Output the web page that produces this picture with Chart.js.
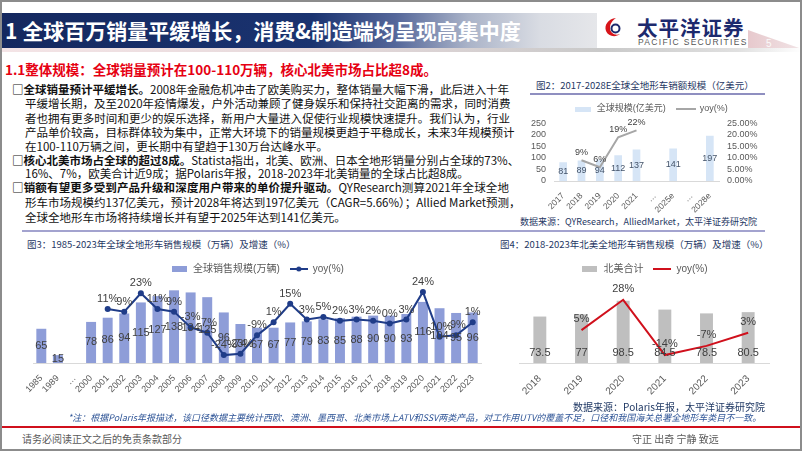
<!DOCTYPE html>
<html>
<head>
<meta charset="utf-8">
<script src="https://cdn.jsdelivr.net/npm/chart.js@4.4.0/dist/chart.umd.min.js"></script>
<style>
  body { margin: 0; background: #fff; }
  #slide { position: relative; width: 802px; height: 451px; overflow: hidden; background: #fff;
           font-family: "Noto Sans CJK SC", sans-serif; }
  .abs { position: absolute; white-space: nowrap; }
  .ln { position: absolute; font-size: 11.5px; line-height: 14px; color: #111; white-space: nowrap; }
  .j { text-align: justify; text-align-last: justify; }
  .cap { position: absolute; font-size: 9.5px; color: #1f3864; white-space: nowrap; }
  canvas { position: absolute; }
</style>
</head>
<body>
<div id="slide">
  <!-- header -->
  <div class="abs" style="left:0;top:13px;width:600px;height:35px;background:linear-gradient(90deg,#14285f 0%,#1a3370 52%,#55679a 66%,#aab3c8 78%,#d9dce3 90%,#e6e7ea 100%);"></div>
  <div class="abs" style="left:5px;top:13px;line-height:35px;font-size:21px;font-weight:bold;color:#fff;">1 全球百万销量平缓增长，消费&amp;制造端均呈现高集中度</div>
  <div class="abs" style="left:597px;top:13px;width:153px;height:35px;background:#fff;"></div>
  <svg class="abs" style="left:603px;top:16px" width="22" height="22" viewBox="0 0 22 22">
    <path d="M13 2 C5 3 1 9 3 15 C5 20 12 22 17 18 C12 20 7 17 7 12 C7 7 10 4 13 2 Z" fill="#d7141a"/>
    <circle cx="12.5" cy="12.5" r="4" fill="none" stroke="#1d2a6e" stroke-width="2"/>
  </svg>
  <div class="abs" style="left:637px;top:12px;font-size:20.5px;font-weight:bold;color:#1d2a6e;letter-spacing:1px;">太平洋证券</div>
  <div class="abs" style="left:638px;top:37px;font-size:8.5px;color:#555;letter-spacing:1.3px;font-family:'Liberation Sans',sans-serif;">PACIFIC SECURITIES</div>
  <div class="abs" style="left:748px;top:30px;width:54px;height:19px;background:linear-gradient(90deg,#e7c9cd,#f1e4e6);clip-path:polygon(0 0,100% 100%,0 100%);"></div>
  <div class="abs" style="left:766px;top:38px;font-size:10px;color:#fafafa;font-family:'Liberation Sans',sans-serif;">5</div>
  <div class="abs" style="left:0;top:48px;width:802px;height:4px;background:linear-gradient(90deg,#f4e4e6 0%,#e6d9db 40%,#c9c9c9 75%,#e0e0e0 92%,#fff 100%);"></div>

  <!-- subtitle -->
  <div class="abs" style="left:5px;top:59px;font-size:13.5px;font-weight:bold;color:#e60012;">1.1整体规模：全球销量预计在100-110万辆，核心北美市场占比超8成。</div>

  <!-- body text -->
  <div class="ln j" style="left:12px;top:82px;width:497px;"><b>□全球销量预计平缓增长。</b>2008年金融危机冲击了欧美购买力，整体销量大幅下滑，此后进入十年</div>
  <div class="ln j" style="left:25px;top:96px;width:485px;">平缓增长期，及至2020年疫情爆发，户外活动兼顾了健身娱乐和保持社交距离的需求，同时消费</div>
  <div class="ln j" style="left:25px;top:111px;width:485px;">者也拥有更多时间和更少的娱乐选择，新用户大量进入促使行业规模快速提升。我们认为，行业</div>
  <div class="ln j" style="left:25px;top:125px;width:485px;">产品单价较高，目标群体较为集中，正常大环境下的销量规模更趋于平稳成长，未来3年规模预计</div>
  <div class="ln" style="left:25px;top:139px;">在100-110万辆之间，更长期中有望趋于130万台达峰水平。</div>
  <div class="ln j" style="left:12px;top:153px;width:497px;"><b>□核心北美市场占全球的超过8成。</b>Statista指出，北美、欧洲、日本全地形销量分别占全球的73%、</div>
  <div class="ln" style="left:25px;top:166px;">16%、7%，欧美合计近9成；据Polaris年报，2018-2023年北美销量的全球占比超8成。</div>
  <div class="ln j" style="left:12px;top:180px;width:497px;"><b>□销额有望更多受到产品升级和深度用户带来的单价提升驱动。</b>QYResearch测算2021年全球全地</div>
  <div class="ln j" style="left:25px;top:195px;width:490px;">形车市场规模约137亿美元，预计2028年将达到197亿美元（CAGR=5.66%）；Allied Market预测，</div>
  <div class="ln" style="left:25px;top:210px;">全球全地形车市场将持续增长并有望于2025年达到141亿美元。</div>

  <!-- chart 2 captions -->
  <div class="cap" style="left:536px;top:78px;">图2：2017-2028E全球全地形车销额规模（亿美元）</div>
  <div class="abs" style="left:530px;top:93px;width:235px;height:1.5px;background:#8f8fc0;"></div>
  <div class="cap" style="left:520px;top:215px;font-size:9px;">数据来源：QYResearch，AlliedMarket，太平洋证券研究院</div>

  <div class="abs" style="left:22px;top:230px;width:743px;height:1.5px;background:#a3a3cf;"></div>

  <div class="cap" style="left:27px;top:237px;">图3：1985-2023年全球全地形车销售规模（万辆）及增速（%）</div>
  <div class="cap" style="left:500px;top:237px;">图4：2018-2023年北美全地形车销售规模（万辆）及增速（%）</div>

  <canvas id="c2" width="242" height="125" style="left:530px;top:93px;"></canvas>
  <canvas id="c3" width="465" height="146" style="left:25px;top:254px;"></canvas>
  <canvas id="c4" width="285" height="146" style="left:500px;top:254px;"></canvas>

  <!-- notes & footer -->
  <div class="abs" style="right:37px;top:399px;font-size:10px;color:#1f3864;">数据来源：Polaris年报，太平洋证券研究院</div>
  <div class="abs" style="left:68px;top:411px;font-size:9px;font-style:italic;color:#2f5597;">*注：根据Polaris年报描述，该口径数据主要统计西欧、澳洲、墨西哥、北美市场上ATV和SSV两类产品，对工作用UTV的覆盖不足，口径和我国海关总署全地形车类目不一致。</div>
  <div class="abs" style="left:0;top:426px;width:802px;height:2px;background:#d0101c;"></div>
  <div class="abs" style="left:22px;top:431px;font-size:10px;color:#595959;">请务必阅读正文之后的免责条款部分</div>
  <div class="abs" style="left:632px;top:431px;font-size:10px;color:#595959;">守正 出奇 宁静 致远</div>

  <div class="abs" style="left:0;top:0;width:802px;height:451px;box-sizing:border-box;border:2px solid #8c8c8c;"></div>
</div>

<script>
// ---- data ----
const c2Years = ['2017', '2018', '2019', '2020', '2021', '…', '2025e', '…', '2028e'];
const c2Size = [81, 89, 94, 112, 137, null, 141, null, 197];
const c2Yoy = [null, 9, 6, 19, 22, null, null, null, null];

const c3Years = ['1985', '1989', '…', '2000', '2001', '2002', '2003', '2004', '2005', '2006', '2007', '2008', '2009',
  '2010', '2011', '2012', '2013', '2014', '2015', '2016', '2017', '2018', '2019', '2020', '2021', '2022', '2023'];
const c3Sales = [65, 15, null, 78, 86, 94, 115, 127, 138, 134, 125, 96, 74, 67, 67, 77, 79, 83, 85, 88, 90, 90, 93, 116, 104, 95, 96];
const c3Yoy = [null, null, null, null, 11, 9, 23, 11, 9, -3, -7, -24, -23, -9, 1, 15, 3, 5, 2, 3, 2, 0, 3, 24, -10, -9, 1];

const c4Years = ['2018', '2019', '2020', '2021', '2022', '2023'];
const c4Sales = [73.5, 77, 98.5, 84.5, 78.5, 80.5];
const c4Yoy = [null, 5, 28, -14, -7, 3];

const FONT = "'Liberation Sans', 'Noto Sans CJK SC', sans-serif";
const pct = v => v + '%';

// value labels drawn straight from the element positions
const valueLabels = {
  id: 'valueLabels',
  afterDatasetsDraw(chart) {
    const ctx = chart.ctx;
    chart.data.datasets.forEach((ds, i) => {
      const lab = ds.valueLabel;
      if (!lab) return;
      const meta = chart.getDatasetMeta(i);
      ctx.save();
      ctx.font = lab.size + 'px ' + FONT;
      ctx.fillStyle = lab.color || '#404040';
      ctx.textAlign = 'center';
      ctx.textBaseline = 'middle';
      meta.data.forEach((el, j) => {
        const v = ds.data[j];
        if (v == null) return;
        let y;
        if (lab.pos === 'center') y = (el.y + el.base) / 2;
        else if (lab.pos === 'base') y = el.base - lab.offset;
        else y = el.y - lab.offset;
        ctx.fillText(lab.fmt ? lab.fmt(v) : v, el.x, y);
      });
      ctx.restore();
    });
  }
};

function boxIcon(color, w, h) {
  const c = document.createElement('canvas');
  c.width = w; c.height = h;
  const g = c.getContext('2d');
  g.fillStyle = color;
  g.fillRect(0, 0, w, h);
  return c;
}
function lineIcon(color, w, lw, dot) {
  const c = document.createElement('canvas');
  c.width = w; c.height = 8;
  const g = c.getContext('2d');
  g.strokeStyle = color; g.lineWidth = lw;
  g.beginPath(); g.moveTo(0, 4); g.lineTo(w, 4); g.stroke();
  if (dot) {
    g.fillStyle = color;
    g.beginPath(); g.arc(w / 2, 4, dot, 0, Math.PI * 2); g.fill();
  }
  return c;
}
// legend items: [text, icon, datasetIndex]
function legendOf(items, size, padding) {
  return {
    display: true,
    position: 'top',
    onClick: null,
    labels: {
      usePointStyle: true,
      pointStyleWidth: 18,
      padding: padding,
      color: '#595959',
      font: { size: size, family: FONT },
      generateLabels: () => items.map(it => ({
        text: it[0], pointStyle: it[1], datasetIndex: it[2], hidden: false,
        fontColor: '#595959', lineWidth: 0, strokeStyle: 'rgba(0,0,0,0)', fillStyle: 'rgba(0,0,0,0)'
      }))
    }
  };
}
function xAxis(size, h) {
  return {
    grid: { display: false },
    border: { display: true, color: '#d9d9d9' },
    ticks: { minRotation: 45, maxRotation: 45, autoSkip: false, color: '#595959', font: { size: size, family: FONT }, padding: 2 },
    afterFit: s => { s.height = h; }
  };
}

Chart.defaults.animation = false;

// figure 2
new Chart(document.getElementById('c2'), {
  data: {
    labels: c2Years,
    datasets: [
      { type: 'line', label: 'yoy(%)', data: c2Yoy, yAxisID: 'y1', borderColor: '#a6a6a6', borderWidth: 2,
        pointRadius: 0, valueLabel: { pos: 'above', offset: 8, size: 9, fmt: pct, color: '#404040' } },
      { type: 'bar', label: '全球规模(亿美元)', data: c2Size, yAxisID: 'y', backgroundColor: '#d6e5f6',
        categoryPercentage: 1, barPercentage: 0.42, valueLabel: { pos: 'center', size: 9, color: '#44546a' } }
    ]
  },
  options: {
    responsive: false, devicePixelRatio: 1,
    plugins: {
      legend: legendOf([
        ['全球规模(亿美元)', boxIcon('#d6e5f6', 16, 5), 1],
        ['yoy(%)', lineIcon('#a6a6a6', 20, 2), 0]
      ], 9, 11.5),
      tooltip: { enabled: false }
    },
    scales: {
      x: xAxis(8.5, 37),
      y: { position: 'left', min: 0, max: 250, grid: { display: false }, border: { display: false },
           ticks: { stepSize: 50, autoSkip: false, color: '#595959', font: { size: 9, family: FONT }, padding: 0 },
           afterFit: s => { s.width = 24; } },
      y1: { position: 'right', min: 0, max: 25, grid: { display: false }, border: { display: false },
            ticks: { stepSize: 5, autoSkip: false, color: '#595959', font: { size: 9, family: FONT }, padding: 0,
                     callback: v => v.toFixed(2) + '%' },
            afterFit: s => { s.width = 53; } }
    }
  },
  plugins: [valueLabels]
});

// figure 3
new Chart(document.getElementById('c3'), {
  data: {
    labels: c3Years,
    datasets: [
      { type: 'line', label: 'yoy(%)', data: c3Yoy, yAxisID: 'y1', borderColor: '#1f3c88', borderWidth: 2,
        pointRadius: 3, pointBackgroundColor: '#1f3c88', pointBorderWidth: 0,
        valueLabel: { pos: 'above', offset: 10, size: 11, fmt: pct } },
      { type: 'bar', label: '全球销售规模(万辆)', data: c3Sales, yAxisID: 'y', backgroundColor: '#8e9dd8',
        categoryPercentage: 1, barPercentage: 0.6, valueLabel: { pos: 'center', size: 11 } }
    ]
  },
  options: {
    responsive: false, devicePixelRatio: 1,
    layout: { padding: { left: 8, right: 9, top: 0, bottom: 0 } },
    plugins: {
      legend: legendOf([
        ['全球销售规模(万辆)', boxIcon('#8e9dd8', 15, 6), 1],
        ['yoy(%)', lineIcon('#1f3c88', 18, 2, 2.5), 0]
      ], 10, 10),
      tooltip: { enabled: false }
    },
    scales: {
      x: xAxis(9, 37),
      y: { display: false, min: 0, max: 150 },
      y1: { display: false, min: -30, max: 30 }
    }
  },
  plugins: [valueLabels]
});

// figure 4
new Chart(document.getElementById('c4'), {
  data: {
    labels: c4Years,
    datasets: [
      { type: 'line', label: 'yoy(%)', data: c4Yoy, yAxisID: 'y1', borderColor: '#d0101c', borderWidth: 2,
        pointRadius: 0, valueLabel: { pos: 'above', offset: 11, size: 11, fmt: pct } },
      { type: 'bar', label: '北美合计', data: c4Sales, yAxisID: 'y', backgroundColor: '#bfbfbf',
        categoryPercentage: 1, barPercentage: 0.31, valueLabel: { pos: 'base', offset: 10, size: 11 } }
    ]
  },
  options: {
    responsive: false, devicePixelRatio: 1,
    layout: { padding: { left: 19, right: 16, top: 0, bottom: 0 } },
    plugins: {
      legend: legendOf([
        ['北美合计', boxIcon('#bfbfbf', 15, 6), 1],
        ['yoy(%)', lineIcon('#d0101c', 18, 2), 0]
      ], 10, 10),
      tooltip: { enabled: false }
    },
    scales: {
      x: xAxis(10, 37),
      y: { display: false, min: 0, max: 125 },
      y1: { display: false, min: -20, max: 40 }
    }
  },
  plugins: [valueLabels]
});
</script>
</body>
</html>
